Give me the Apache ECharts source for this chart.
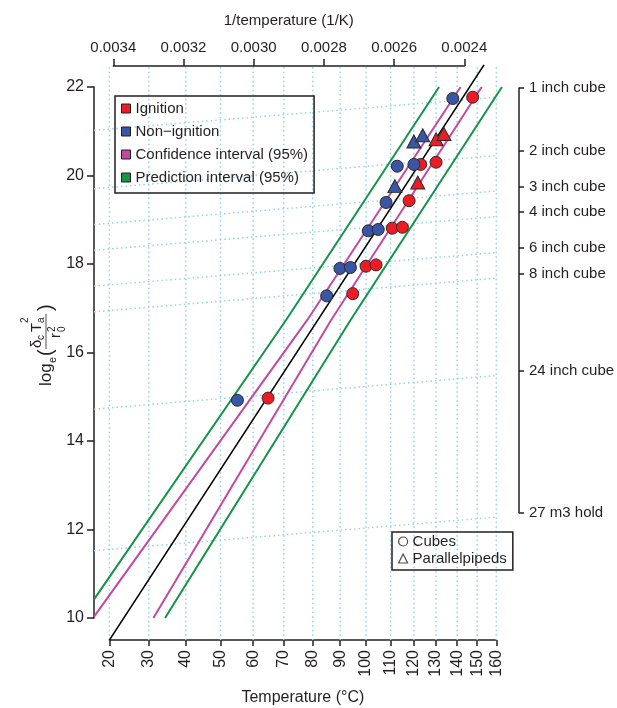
<!DOCTYPE html>
<html>
<head>
<meta charset="utf-8">
<script src="https://cdn.jsdelivr.net/npm/echarts@6/dist/echarts.min.js"></script>
<style>
html, body { margin: 0; padding: 0; background: #fff; }
#main { width: 617px; height: 708px; }
</style>
</head>
<body>
<div id="main"></div>
<script>
// ---- data (temperature in degC, value = log_e(dc Ta^2 / r0^2)) ----
var ignitionCubesT = [64.8, 94.8, 100.0, 104.0, 110.7, 115.0, 117.9, 123.0, 130.0, 147.7];
var ignitionCubesY = [14.97, 17.33, 17.95, 17.98, 18.81, 18.83, 19.43, 20.25, 20.30, 21.77];
var ignitionParT = [121.7, 130.0, 133.7];
var ignitionParY = [19.84, 20.82, 20.94];
var nonIgnCubesT = [55.1, 85.0, 89.9, 93.9, 100.9, 104.9, 108.1, 112.8, 120.0, 137.9];
var nonIgnCubesY = [14.92, 17.28, 17.90, 17.92, 18.75, 18.78, 19.39, 20.21, 20.25, 21.74];
var nonIgnParT = [111.8, 120.0, 123.9];
var nonIgnParY = [19.76, 20.77, 20.91];

// fitted line and interval curves, [temperature, value]
var fitLine = [[20, 9.5], [153.5, 22.5]];
var confUpper = [[16.3, 10.03], [78.0, 16.73], [141.7, 22.0]];
var confLower = [[31.2, 10.0], [86.6, 16.73], [152.3, 22.0]];
var predUpper = [[16.3, 10.42], [70.7, 16.73], [131.4, 22.0]];
var predLower = [[34.3, 10.0], [93.9, 16.73], [163.0, 22.0]];

// axes
var tempTicks = [20, 30, 40, 50, 60, 70, 80, 90, 100, 110, 120, 130, 140, 150, 160];
var invTicks = [0.0024, 0.0026, 0.0028, 0.0030, 0.0032, 0.0034];
var sizeLabels = ['1 inch cube', '2 inch cube', '3 inch cube', '4 inch cube',
    '6 inch cube', '8 inch cube', '24 inch cube', '27 m3 hold'];
var sizeTicks = [21.98, 20.55, 19.75, 19.17, 18.36, 17.78, 15.58, 12.38];
// dotted size lines: value at left end (16.3 degC) and right end (160 degC)
var sizeLineT = [16.3, 160];
var sizeLineLeft = [21.02, 19.70, 18.89, 18.31, 17.50, 16.92, 14.72, 11.52];
var sizeLineRight = [21.77, 20.45, 19.65, 19.07, 18.26, 17.68, 15.48, 12.28];

// ---- layout helpers ----
var K0 = 273.15;
function inv(t) { return 1 / (t + K0); }
var Y22 = 87, PXY = 44.25;       // pixel of value 22, pixels per unit
var X34 = 113.3, PXX = 351000;   // pixel of 1/T = 0.0034, pixels per 1/K
function py(v) { return Y22 + (22 - v) * PXY; }
function px(u) { return X34 + (0.0034 - u) * PXX; }
function vAt(p) { return 22 - (p - Y22) / PXY; }
function uAt(p) { return 0.0034 - (p - X34) / PXX; }

var FONT = 'Liberation Sans, Arial, Helvetica, sans-serif';
var TXT = '#231f20';
var RED = '#ed1c24', BLUE = '#3b55a5', PINK = '#bf4aa5', GREEN = '#15934a', GRIDC = '#93d2e8';

function toXY(pairs) {
    return pairs.map(function (p) { return [inv(p[0]), p[1]]; });
}
function zipXY(ts, ys) {
    return ts.map(function (t, i) { return [inv(t), ys[i]]; });
}

var series = [];
var dotted = { color: GRIDC, width: 1.5, type: [1.5, 3] };

tempTicks.forEach(function (t) {
    series.push({
        type: 'line', silent: true, symbol: 'none', z: 1,
        data: [[inv(t), 9.5], [inv(t), 22.45]],
        lineStyle: dotted
    });
});
sizeLineLeft.forEach(function (v, i) {
    series.push({
        type: 'line', silent: true, symbol: 'none', z: 1,
        data: [[inv(sizeLineT[0]), v], [inv(sizeLineT[1]), sizeLineRight[i]]],
        lineStyle: dotted
    });
});

function band(name, pts, color) {
    series.push({
        type: 'line', name: name, symbol: 'none', z: 3,
        data: toXY(pts), color: color,
        lineStyle: { color: color, width: 2 }
    });
}
band('Prediction interval (95%)', predUpper, GREEN);
band('Prediction interval (95%)', predLower, GREEN);
band('Confidence interval (95%)', confUpper, PINK);
band('Confidence interval (95%)', confLower, PINK);
series.push({
    type: 'line', name: 'fit', symbol: 'none', z: 4,
    data: toXY(fitLine), lineStyle: { color: '#000', width: 1.6 }
});

function points(name, ts, ys, color, symbol, size) {
    series.push({
        type: 'scatter', name: name, z: 5,
        symbol: symbol, symbolSize: size,
        data: zipXY(ts, ys), color: color,
        itemStyle: { color: color, borderColor: '#2a2a2a', borderWidth: 1, opacity: 1 }
    });
}
points('Ignition', ignitionCubesT, ignitionCubesY, RED, 'circle', 12);
points('Non\u2212ignition', nonIgnCubesT, nonIgnCubesY, BLUE, 'circle', 12);
points('Ignition', ignitionParT, ignitionParY, RED, 'triangle', [14, 13]);
points('Non\u2212ignition', nonIgnParT, nonIgnParY, BLUE, 'triangle', [14, 13]);
series.push({ type: 'scatter', name: 'Cubes', data: [] });
series.push({ type: 'scatter', name: 'Parallelpipeds', data: [] });

var axisLine = { show: true, onZero: false, lineStyle: { color: TXT, width: 1.5 } };
var tickStyle = { color: TXT, width: 1.5 };

var bottomL = px(inv(20)), bottomR = px(inv(160));

function txt(s, x, y, size) {
    return { type: 'text', x: x, y: y,
        style: { text: s, fontSize: size, fontFamily: FONT, fill: TXT, verticalAlign: 'middle' } };
}

var option = {
    animation: false,
    backgroundColor: '#fff',
    textStyle: { fontFamily: FONT, color: TXT },
    grid: [
        { left: 94, top: 60, width: 411, height: 580, outerBoundsMode: 'none' },
        { left: bottomL, top: 87, width: bottomR - bottomL, height: 553, outerBoundsMode: 'none' },
        { left: X34, top: 66, width: 351, height: 100, outerBoundsMode: 'none' },
        { left: 94, top: 87, width: 100, height: 531, outerBoundsMode: 'none' },
        { left: 419, top: py(sizeTicks[0]), width: 100,
          height: py(sizeTicks[sizeTicks.length - 1]) - py(sizeTicks[0]), outerBoundsMode: 'none' }
    ],
    xAxis: [
        { type: 'value', gridIndex: 0, show: false, inverse: true, min: uAt(505), max: uAt(94) },
        {
            type: 'value', gridIndex: 1, inverse: true, position: 'bottom',
            min: inv(160), max: inv(20),
            axisLine: axisLine, splitLine: { show: false },
            axisTick: { show: true, length: 6, lineStyle: tickStyle, customValues: tempTicks.map(inv) },
            axisLabel: {
                customValues: tempTicks.map(inv), rotate: 90, margin: 10,
                fontSize: 16, color: TXT, fontFamily: FONT,
                formatter: function (u) { return String(Math.round(1 / u - K0)); }
            },
            name: 'Temperature (\u00b0C)', nameLocation: 'middle', nameGap: 50,
            nameTextStyle: { fontSize: 16, color: TXT, fontFamily: FONT }
        },
        {
            type: 'value', gridIndex: 2, inverse: true, position: 'top',
            min: 0.0024, max: 0.0034,
            axisLine: axisLine, splitLine: { show: false },
            axisTick: { show: true, length: 7, lineStyle: tickStyle, customValues: invTicks },
            axisLabel: {
                customValues: invTicks, margin: 11, fontSize: 15, color: TXT, fontFamily: FONT,
                formatter: function (u) { return u.toFixed(4); }
            },
            name: '1/temperature (1/K)', nameLocation: 'middle', nameGap: 38,
            nameTextStyle: { fontSize: 15, color: TXT, fontFamily: FONT }
        },
        { type: 'value', gridIndex: 3, show: false },
        { type: 'value', gridIndex: 4, show: false }
    ],
    yAxis: [
        { type: 'value', gridIndex: 0, show: false, min: vAt(640), max: vAt(60) },
        { type: 'value', gridIndex: 1, show: false },
        { type: 'value', gridIndex: 2, show: false },
        {
            type: 'value', gridIndex: 3, position: 'left', min: 10, max: 22, interval: 2,
            axisLine: axisLine, splitLine: { show: false },
            axisTick: { show: true, length: 7, lineStyle: tickStyle },
            axisLabel: { margin: 10, fontSize: 16, color: TXT, fontFamily: FONT }
        },
        {
            type: 'value', gridIndex: 4, position: 'right',
            min: sizeTicks[sizeTicks.length - 1], max: sizeTicks[0],
            axisLine: axisLine, splitLine: { show: false },
            axisTick: { show: true, length: 5, lineStyle: tickStyle, customValues: sizeTicks },
            axisLabel: {
                customValues: sizeTicks, margin: 10, fontSize: 15, color: TXT, fontFamily: FONT,
                formatter: function (v) {
                    for (var i = 0; i < sizeTicks.length; i++) {
                        if (Math.abs(sizeTicks[i] - v) < 1e-6) return sizeLabels[i];
                    }
                    return '';
                }
            }
        }
    ],
    legend: [
        {
            left: 115, top: 96, orient: 'vertical', selectedMode: false,
            borderColor: TXT, borderWidth: 1.5, padding: [5, 6, 8, 6],
            itemWidth: 9, itemHeight: 9, itemGap: 8,
            textStyle: { fontSize: 15, lineHeight: 15, color: TXT, fontFamily: FONT },
            data: [
                { name: 'Ignition', icon: 'rect', itemStyle: { color: RED, borderColor: TXT, borderWidth: 1 } },
                { name: 'Non\u2212ignition', icon: 'rect', itemStyle: { color: BLUE, borderColor: TXT, borderWidth: 1 } },
                { name: 'Confidence interval (95%)', icon: 'rect', itemStyle: { color: PINK, borderColor: TXT, borderWidth: 1 } },
                { name: 'Prediction interval (95%)', icon: 'rect', itemStyle: { color: GREEN, borderColor: TXT, borderWidth: 1 } }
            ]
        },
        {
            left: 392, top: 532, orient: 'vertical', selectedMode: false,
            borderColor: TXT, borderWidth: 1.5, padding: [2, 6, 4, 6],
            itemWidth: 9, itemHeight: 9, itemGap: 2,
            textStyle: { fontSize: 15, lineHeight: 15, color: TXT, fontFamily: FONT },
            data: [
                { name: 'Cubes', icon: 'circle', itemStyle: { color: '#fff', borderColor: TXT, borderWidth: 1.2 } },
                { name: 'Parallelpipeds', icon: 'triangle', itemStyle: { color: '#fff', borderColor: TXT, borderWidth: 1.2 } }
            ]
        }
    ],
    graphic: [{
        type: 'group', x: 46, y: 386, rotation: Math.PI / 2,
        children: [
            txt('log', 0, 0, 17),
            txt('e', 23, 7, 11),
            txt('(', 30, 0, 20),
            txt('\u03b4', 38, -9, 15),
            txt('c', 46, -5, 10),
            txt('T', 54, -9, 15),
            txt('a', 63, -5, 10),
            txt('2', 63, -21, 10),
            { type: 'line', shape: { x1: 37, y1: 0, x2: 72, y2: 0 }, style: { stroke: TXT, lineWidth: 0.8 } },
            txt('r', 48, 10, 15),
            txt('2', 54, 6, 10),
            txt('0', 54, 16, 10),
            txt(')', 75, 0, 20)
        ]
    }],
    series: series
};

var myChart = echarts.init(document.getElementById('main'));
myChart.setOption(option);
</script>
</body>
</html>
